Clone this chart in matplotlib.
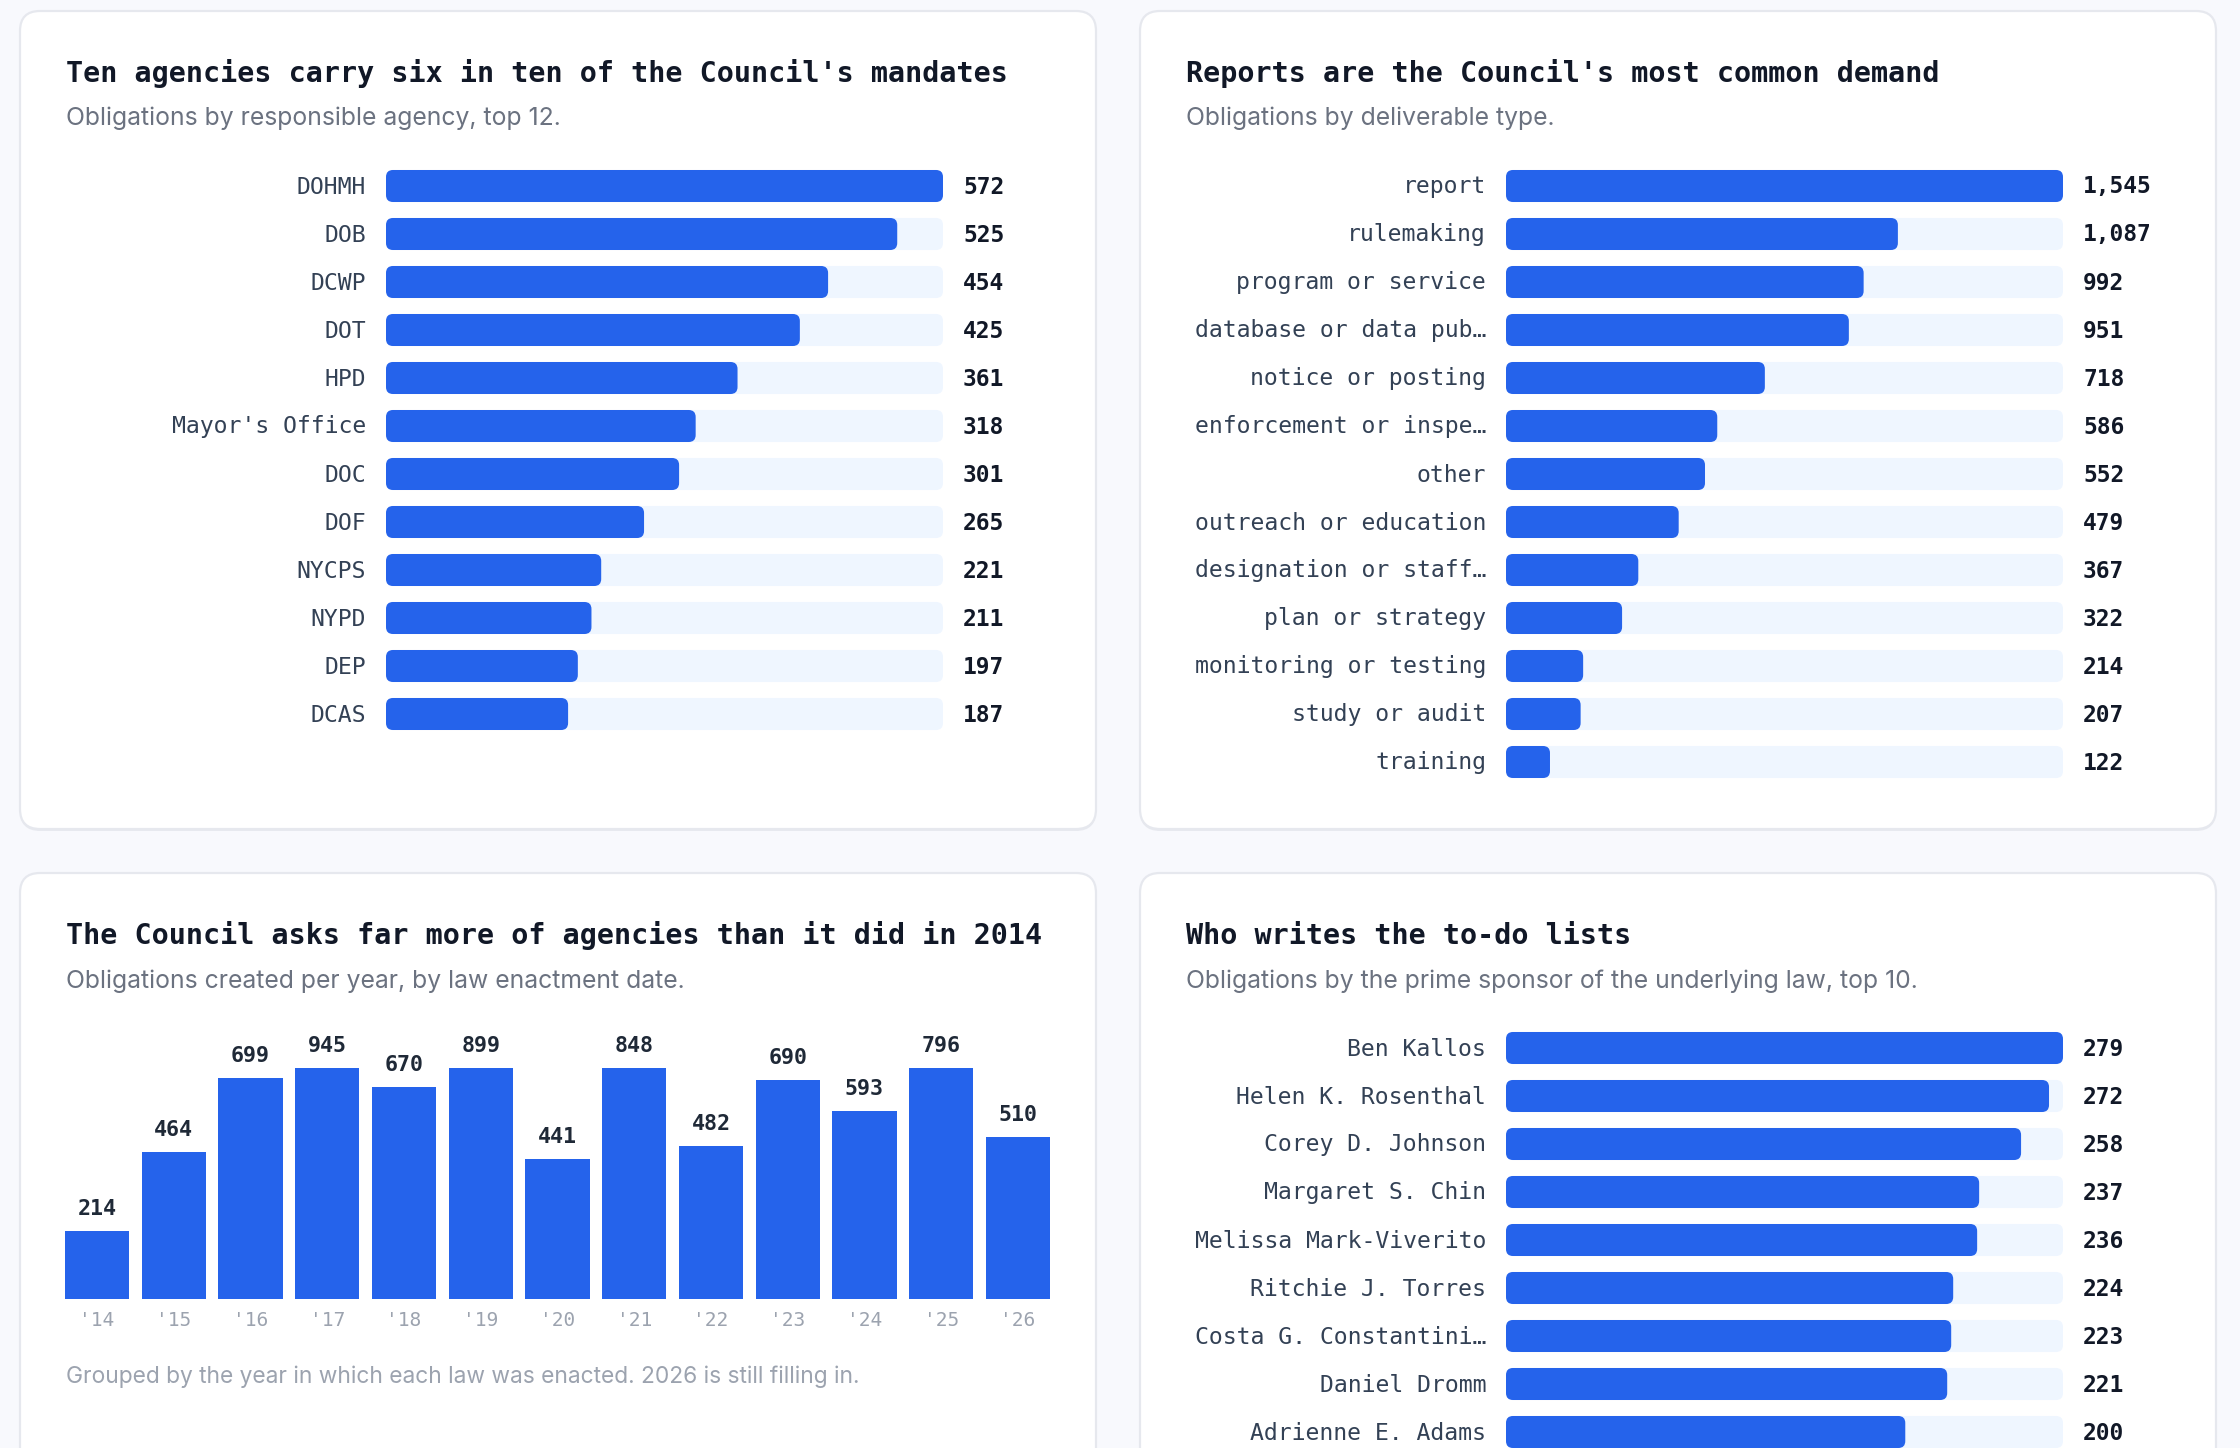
import matplotlib
matplotlib.use("Agg")
import matplotlib.pyplot as plt
from matplotlib.patches import FancyBboxPatch
import numpy as np

# --- data ---
agencies = ["DOHMH", "DOB", "DCWP", "DOT", "HPD", "Mayor's Office", "DOC",
            "DOF", "NYCPS", "NYPD", "DEP", "DCAS"]
agency_counts = [572, 525, 454, 425, 361, 318, 301, 265, 221, 211, 197, 187]

deliverables = ["report", "rulemaking", "program or service", "database or data pub\u2026",
                "notice or posting", "enforcement or inspe\u2026", "other",
                "outreach or education", "designation or staff\u2026", "plan or strategy",
                "monitoring or testing", "study or audit", "training"]
deliverable_counts = [1545, 1087, 992, 951, 718, 586, 552, 479, 367, 322, 214, 207, 122]

years = ["'14", "'15", "'16", "'17", "'18", "'19", "'20", "'21", "'22", "'23",
         "'24", "'25", "'26"]
year_counts = [214, 464, 699, 945, 670, 899, 441, 848, 482, 690, 593, 796, 510]
year_cap = 729  # the column area clips the tallest bars

sponsors = ["Ben Kallos", "Helen K. Rosenthal", "Corey D. Johnson", "Margaret S. Chin",
            "Melissa Mark-Viverito", "Ritchie J. Torres", "Costa G. Constantini\u2026",
            "Daniel Dromm", "Adrienne E. Adams"]
sponsor_counts = [279, 272, 258, 237, 236, 224, 223, 221, 200]

# --- style ---
BG = "#f8f9fd"
BLUE = "#2563eb"
TRACK = "#eff6ff"
INK = "#111827"
LABEL = "#334155"
MUTED = "#6b7280"
FAINT = "#9ca3af"
MONO = "DejaVu Sans Mono"
SANS = "Inter"

W, H = 2240, 1448
fig = plt.figure(figsize=(W / 100, H / 100), dpi=100, facecolor=BG)


def px_axes(x0, y0, x1, y1):
    ax = fig.add_axes([x0 / W, 1 - y1 / H, (x1 - x0) / W, (y1 - y0) / H])
    ax.set_axis_off()
    return ax


def ftext(x, y, s, **kw):
    fig.text(x / W, 1 - y / H, s, **kw)


def card(x0, y0, x1, y1):
    bg = fig.add_axes([0, 0, 1, 1], zorder=-5)
    bg.set_axis_off()
    bg.set_xlim(0, W)
    bg.set_ylim(H, 0)
    shadow = FancyBboxPatch((x0, y0 + 2), x1 - x0, y1 - y0,
                            boxstyle="round,pad=0,rounding_size=20",
                            fc="#e8eaf0", ec="none")
    box = FancyBboxPatch((x0, y0), x1 - x0, y1 - y0,
                         boxstyle="round,pad=0,rounding_size=20",
                         fc="white", ec="#e6e8ee", lw=1.6)
    bg.add_patch(shadow)
    bg.add_patch(box)


def round_rects(ax, rects, color, r_px):
    fig.canvas.draw()
    bb = ax.get_window_extent()
    x0, x1 = ax.get_xlim()
    y0, y1 = ax.get_ylim()
    ppx = bb.width / abs(x1 - x0)
    ppy = bb.height / abs(y1 - y0)
    for rect in rects:
        x, y = rect.get_xy()
        w, h = rect.get_width(), rect.get_height()
        rect.set_visible(False)
        r = min(r_px / ppx, abs(w) / 2)
        ax.add_patch(FancyBboxPatch((x, y), w, h,
                                    boxstyle=f"round,pad=0,rounding_size={r}",
                                    mutation_aspect=ppx / ppy,
                                    fc=color, ec="none", clip_on=True))


def hbar_panel(x0, x1, ytop, labels, values):
    n = len(labels)
    ax = px_axes(x0, ytop, x1, ytop + n * 48)
    vmax = max(values)
    ax.set_xlim(0, vmax)
    ax.set_ylim(n - 0.5, -0.5)
    ypos = np.arange(n)
    track = ax.barh(ypos, [vmax] * n, height=0.667, color=TRACK)
    bars = ax.barh(ypos, values, height=0.667, color=BLUE)
    round_rects(ax, track, TRACK, 7)
    round_rects(ax, bars, BLUE, 7)
    for i, (lab, v) in enumerate(zip(labels, values)):
        ax.annotate(lab, xy=(0, i), xytext=(-20, -1), textcoords="offset pixels",
                    ha="right", va="center", fontsize=16.7, family=MONO,
                    color=LABEL, annotation_clip=False)
        ax.annotate(f"{v:,}", xy=(1, i), xycoords=("axes fraction", "data"),
                    xytext=(20, -1), textcoords="offset pixels", ha="left",
                    va="center", fontsize=16.5, family=MONO, weight="bold",
                    color=INK, annotation_clip=False)
    return ax


# cards
card(20, 11, 1096, 829)
card(1140, 11, 2216, 829)
card(20, 873, 1096, 1500)
card(1140, 873, 2216, 1500)

# titles
TKW = dict(fontsize=20.4, family=MONO, weight="bold", color=INK, va="center")
SKW = dict(fontsize=17.8, family=SANS, color=MUTED, va="center")
ftext(66, 74, "Ten agencies carry six in ten of the Council's mandates", **TKW)
ftext(66, 118, "Obligations by responsible agency, top 12.", **SKW)
ftext(1186, 74, "Reports are the Council's most common demand", **TKW)
ftext(1186, 118, "Obligations by deliverable type.", **SKW)
ftext(66, 936, "The Council asks far more of agencies than it did in 2014", **TKW)
ftext(66, 981, "Obligations created per year, by law enactment date.", **SKW)
ftext(1186, 936, "Who writes the to-do lists", **TKW)
ftext(1186, 981, "Obligations by the prime sponsor of the underlying law, top 10.", **SKW)

# horizontal bar panels
hbar_panel(386, 943, 162, agencies, agency_counts)
hbar_panel(1506, 2063, 162, deliverables, deliverable_counts)
hbar_panel(1506, 2063, 1024, sponsors, sponsor_counts)

# column panel
ax3 = px_axes(65, 1068, 1050, 1299)
bw = 0.834
ax3.set_xlim(-bw / 2, len(years) - 1 + bw / 2)
ax3.set_ylim(0, year_cap)
xpos = np.arange(len(years))
cols = ax3.bar(xpos, year_counts, width=bw, color=BLUE)
for rect in cols:
    rect.set_clip_on(True)
for i, v in enumerate(year_counts):
    ax3.annotate(str(v), xy=(i, min(v, year_cap)), xytext=(0, 22),
                 textcoords="offset pixels", ha="center", va="center",
                 fontsize=15.6, family=MONO, weight="bold", color="#1f2937",
                 annotation_clip=False)
    ax3.annotate(years[i], xy=(i, 0), xytext=(0, -22), textcoords="offset pixels",
                 ha="center", va="center", fontsize=14, family=MONO, color=FAINT,
                 annotation_clip=False)

ftext(66, 1377, "Grouped by the year in which each law was enacted. 2026 is still filling in.",
      fontsize=16.4, family=SANS, color=FAINT, va="center")

fig.savefig("out.png", dpi=100, facecolor=BG)
